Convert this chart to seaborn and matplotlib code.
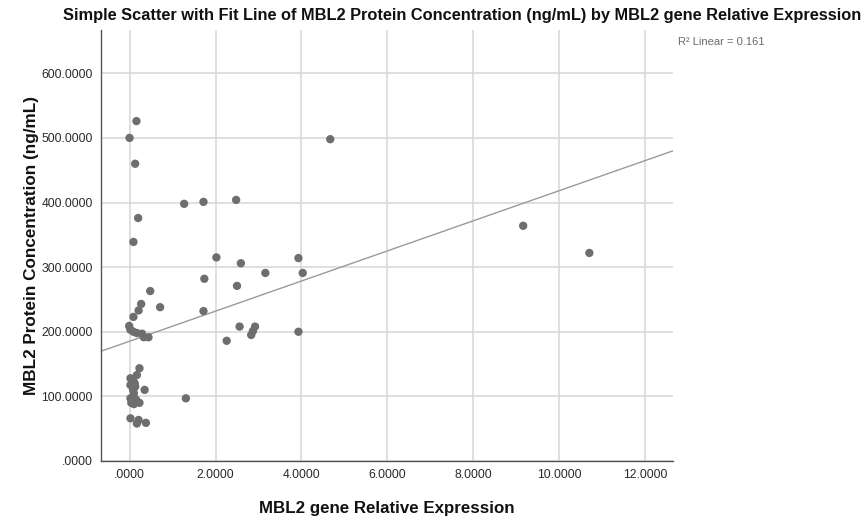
import numpy as np
import pandas as pd
import matplotlib
matplotlib.use("Agg")
import matplotlib.pyplot as plt
import seaborn as sns
from matplotlib.ticker import FuncFormatter, MultipleLocator

expression = [0.16, 0.00, 0.13, 0.20, 0.09,
              1.27, 1.72, 2.48, 4.67, 9.16, 10.70, 2.02, 2.59, 3.93, 4.03, 3.16,
              1.74, 2.50, 1.72, 2.56, 2.92, 2.87, 2.83, 2.26, 3.93, 1.31,
              0.27, 0.21, 0.09, 0.71, -0.01, 0.02, 0.09, 0.17, 0.29, 0.33, 0.44, 0.48,
              0.23, 0.17, 0.02, 0.09, 0.02, 0.13, 0.35, 0.02, 0.09, 0.13, 0.04, 0.23,
              0.02, 0.21, 0.17, 0.38,
              0.05, 0.10, 0.12, 0.08, 0.15, 0.06, 0.10]
protein = [526, 500, 460, 376, 339,
           398, 401, 404, 498, 364, 322, 315, 306, 314, 291, 291,
           282, 271, 232, 208, 208, 201, 195, 186, 200, 97,
           243, 233, 223, 238, 209, 203, 200, 198, 197, 191.5, 191.5, 263,
           143.5, 133, 128, 123, 117.6, 115, 110, 97, 99.5, 92, 90, 90,
           66, 63.5, 58, 59,
           95, 105, 120, 110, 95, 125, 88]

x_label = "MBL2 gene Relative Expression"
y_label = "MBL2 Protein Concentration (ng/mL)"
title = "Simple Scatter with Fit Line of MBL2 Protein Concentration (ng/mL) by MBL2 gene Relative Expression"
r2_text = "R\u00b2 Linear = 0.161"

df = pd.DataFrame({x_label: expression, y_label: protein})

sns.set_theme(style="white")
plt.rcParams['font.family'] = ['Liberation Sans', 'DejaVu Sans']

fig = plt.figure(figsize=(8.64, 5.19), dpi=100)
ax = fig.add_axes([0.1169, 0.1118, 0.7786 - 0.1169, 0.9422 - 0.1118])

x_range = (-0.665, 12.64)
y_range = (0, 667)
ax.set_xlim(*x_range)
ax.set_ylim(*y_range)
ax.xaxis.set_major_locator(MultipleLocator(2))
ax.yaxis.set_major_locator(MultipleLocator(100))
ax.grid(True, color="#d6d6d6", linewidth=1.1)
ax.set_axisbelow(True)

sns.regplot(data=df, x=x_label, y=y_label, ax=ax, ci=None, truncate=False,
            scatter_kws=dict(s=36, color="#6e6e6e", edgecolor="none", alpha=1, zorder=3),
            line_kws=dict(color="#9a9a9a", linewidth=1.0, zorder=2))
ax.set_xlim(*x_range)
ax.set_ylim(*y_range)

def fmt(v, pos):
    s = f"{v:.4f}"
    if s.startswith("-0.0000"):
        s = "0.0000"
    if s.startswith("0."):
        s = s[1:]
    return s

ax.xaxis.set_major_formatter(FuncFormatter(fmt))
ax.yaxis.set_major_formatter(FuncFormatter(fmt))
ax.tick_params(axis="both", length=0, labelsize=8.7, colors="#2a2a2a", pad=6)

for side in ["top", "right"]:
    ax.spines[side].set_visible(False)
for side in ["left", "bottom"]:
    ax.spines[side].set_color("#555555")
    ax.spines[side].set_linewidth(1.0)

ax.set_xlabel(x_label, fontsize=12.2, fontweight="bold", labelpad=14, color="#111111")
ax.set_ylabel(y_label, fontsize=12.3, fontweight="bold", labelpad=1.5, color="#111111")

fig.text(462 / 864, 0.985, title, ha="center", va="top", fontsize=11.8, fontweight="bold",
         color="#111111")
fig.text(678 / 864, 1 - 42 / 519, r2_text, ha="left", va="center", fontsize=8, color="#6a6a6a")

fig.savefig("out.png", dpi=100)
